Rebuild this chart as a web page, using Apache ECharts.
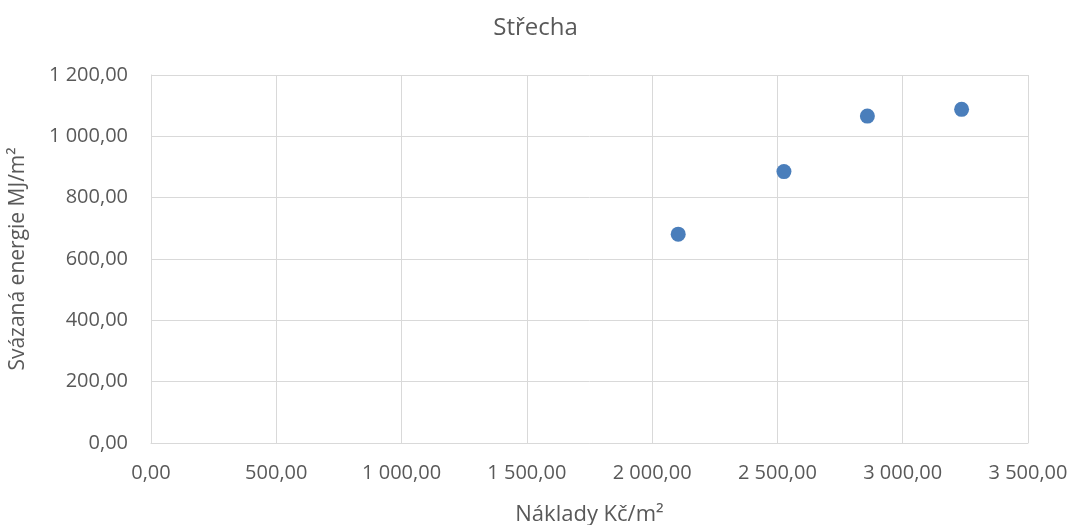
<!DOCTYPE html>
<html lang="cs">
<head>
    <meta charset="UTF-8">
    <title>Střecha</title>
    <script src="https://cdn.jsdelivr.net/npm/echarts@6/dist/echarts.min.js"></script>
    <style>
        * { margin: 0; padding: 0; }
        body { background: #fff; }
        #chart { width: 1071px; height: 525px; }
    </style>
</head>
<body>
    <div id="chart"></div>
    <script>
        // naklady Kc/m2 a svazana energie MJ/m2
        var costs = [2104, 2526, 2859, 3235];
        var energy = [681, 885, 1066, 1088];

        var chartTitle = 'Střecha';
        var xName = 'Náklady Kč/m²';
        var yName = 'Svázaná energie MJ/m²';

        function fmt(v) {
            var parts = v.toFixed(2).split('.');
            var intPart = parts[0].replace(/\B(?=(\d{3})+(?!\d))/g, ' ');
            return intPart + ',' + parts[1];
        }

        var points = costs.map(function (c, i) { return [c, energy[i]]; });

        var font = '"Open Sans", "DejaVu Sans", sans-serif';
        var grey = '#595959';

        var chart = echarts.init(document.getElementById('chart'));
        chart.setOption({
            animation: false,
            textStyle: { fontFamily: font },
            title: {
                text: chartTitle,
                left: 'center',
                top: 11,
                textStyle: { fontSize: 24, fontWeight: 'normal', color: grey, fontFamily: font }
            },
            grid: { left: 151, right: 43, top: 75, bottom: 82, outerBoundsMode: 'none', containLabel: false },
            xAxis: {
                type: 'value',
                min: 0,
                max: 3500,
                interval: 500,
                name: xName,
                nameLocation: 'middle',
                nameGap: 61,
                nameTextStyle: { fontSize: 22, color: grey },
                axisLine: { show: true, lineStyle: { color: '#d9d9d9' } },
                axisTick: { show: false },
                axisLabel: { formatter: fmt, fontSize: 20, color: grey, margin: 20 },
                splitLine: { show: true, lineStyle: { color: '#d9d9d9', width: 1 } }
            },
            yAxis: {
                type: 'value',
                min: 0,
                max: 1200,
                interval: 200,
                name: yName,
                nameLocation: 'middle',
                nameGap: 122,
                nameTextStyle: { fontSize: 21, color: grey },
                axisLine: { show: true, lineStyle: { color: '#d9d9d9' } },
                axisTick: { show: false },
                axisLabel: { formatter: fmt, fontSize: 20, color: grey, margin: 23 },
                splitLine: { show: true, lineStyle: { color: '#d9d9d9', width: 1 } }
            },
            series: [{
                type: 'scatter',
                symbol: 'circle',
                symbolSize: 15,
                itemStyle: { color: '#4a7ebb', opacity: 1 },
                data: points
            }]
        });
    </script>
</body>
</html>
